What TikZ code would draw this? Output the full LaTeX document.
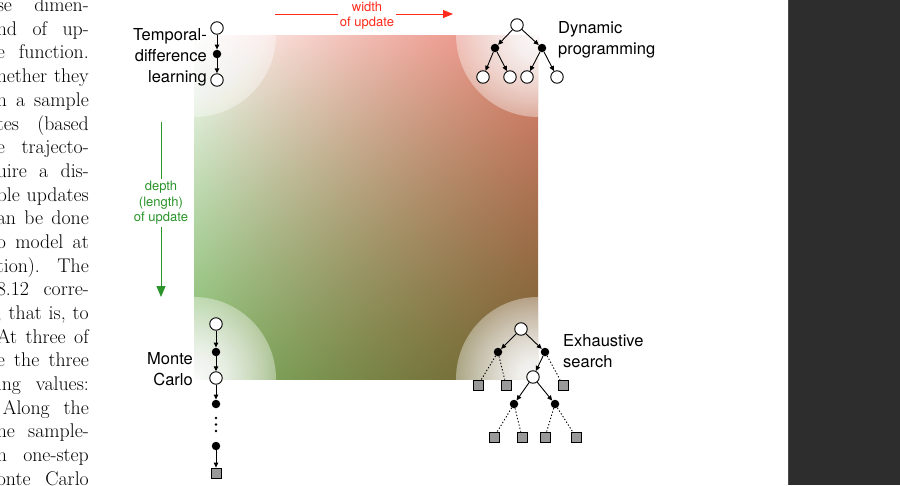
\documentclass[tikz,border=0pt]{standalone}
\usepackage{fontspec}
\setsansfont{TeX Gyre Heros}
\usetikzlibrary{arrows.meta}
\definecolor{wred}{HTML}{FF2A1A}
\definecolor{dgreen}{HTML}{2A942A}
\definecolor{band}{HTML}{2D2D2D}
\definecolor{bandedge}{HTML}{4A4A4A}
\definecolor{leafgray}{HTML}{999999}
\pgfdeclarefunctionalshading{sqshade}{\pgfpoint{0bp}{0bp}}{\pgfpoint{100bp}{100bp}}{}{
  75 exch sub 50 div
  exch 25 sub 50 div
  exch
  dup 0.25 mul 1.25 exch sub mul
  exch dup 0.25 mul 1.25 exch sub mul exch
  1 index 0.09 mul 1 exch sub 1 index 0.50 mul 1 exch sub mul
  2 index 0.48 mul 1 exch sub 2 index 0.28 mul 1 exch sub mul
  3 index 0.54 mul 1 exch sub 3 index 0.60 mul 1 exch sub mul
  5 -2 roll pop pop
}
\tikzset{
  opennode/.style={circle, draw, fill=white, line width=0.9pt, minimum size=12.5pt, inner sep=0pt},
  dotnode/.style={circle, fill=black, minimum size=8.5pt, inner sep=0pt},
  sqnode/.style={rectangle, draw, fill=leafgray, line width=0.8pt, minimum size=10pt, inner sep=0pt},
  tinydot/.style={circle, fill=black, minimum size=2.8pt, inner sep=0pt},
  barrow/.style={line width=0.9pt, -{Triangle[length=5pt,width=4.5pt]}},
  dotline/.style={line width=0.9pt, dash pattern=on 1.3pt off 2pt},
  biglbl/.style={font=\sffamily\fontsize{16.5}{21}\selectfont, inner sep=0pt},
  smalllbl/.style={font=\sffamily\fontsize{13}{15.5}\selectfont, align=center, inner sep=2pt},
  booktext/.style={font=\fontsize{19.8}{23.7}\selectfont, inner sep=0pt},
}
\begin{document}
\begin{tikzpicture}[x=1pt,y=-1pt]
\useasboundingbox (0,0) rectangle (900,485);
\fill[white] (0,0) rectangle (900,485);
% dark band
\fill[band] (788,0) rectangle (900,485);
\draw[bandedge, line width=1pt] (788.5,0) -- (788.5,485);
% book text
\node[booktext, anchor=base east] (b0) at (89,11.6) {\makebox[92pt][s]{se dimen-}};
\node[booktext, anchor=base east] (b1) at (89,35.3) {\makebox[92pt][s]{nd of up-}};
\node[booktext, anchor=base east] (b2) at (89,58.9) {\makebox[92pt][s]{e function.}};
\node[booktext, anchor=base east] (b3) at (89,82.6) {\makebox[92pt][s]{hether they}};
\node[booktext, anchor=base east] (b4) at (89,106.3) {\makebox[92pt][s]{n a sample}};
\node[booktext, anchor=base east] (b5) at (89,130.0) {\makebox[92pt][s]{tes (based}};
\node[booktext, anchor=base east] (b6) at (89,153.6) {\makebox[92pt][s]{e trajecto-}};
\node[booktext, anchor=base east] (b7) at (89,177.3) {\makebox[92pt][s]{uire a dis-}};
\node[booktext, anchor=base east] (b8) at (89,201.0) {\makebox[92pt][s]{ble updates}};
\node[booktext, anchor=base east] (b9) at (89,224.6) {\makebox[92pt][s]{an be done}};
\node[booktext, anchor=base east] (b10) at (89,248.3) {\makebox[92pt][s]{o model at}};
\node[booktext, anchor=base east] (b11) at (89,272.0) {\makebox[92pt][s]{tion). The}};
\node[booktext, anchor=base east] (b12) at (89,295.6) {\makebox[92pt][s]{8.12 corre-}};
\node[booktext, anchor=base east] (b13) at (89,319.3) {\makebox[92pt][s]{, that is, to}};
\node[booktext, anchor=base east] (b14) at (89,343.0) {\makebox[92pt][s]{At three of}};
\node[booktext, anchor=base east] (b15) at (89,366.6) {\makebox[92pt][s]{e the three}};
\node[booktext, anchor=base east] (b16) at (89,390.3) {\makebox[92pt][s]{ing values:}};
\node[booktext, anchor=base east] (b17) at (89,414.0) {\makebox[86pt][s]{Along the}};
\node[booktext, anchor=base east] (b18) at (89,437.6) {\makebox[92pt][s]{he sample-}};
\node[booktext, anchor=base east] (b19) at (89,461.3) {\makebox[92pt][s]{n one-step}};
\node[booktext, anchor=base east] (b20) at (89,485.0) {\makebox[92pt][s]{onte Carlo}};
% gradient square
\shade[shading=sqshade] (194,35) rectangle (538,379);
\begin{scope}
\clip (194,35) rectangle (538,379);
\foreach \cx/\cy in {194/35, 538/35, 194/379, 538/379}{
  \foreach \j in {1,...,39}{
    \pgfmathsetmacro\op{1-((\j-0.5)/(\j+0.5))^1.5}
    \pgfmathsetmacro\rr{82*\j/40}
    \fill[white, opacity=\op] (\cx,\cy) circle (\rr);
  }
  \fill[white, opacity=0.38] (\cx,\cy) circle (82);
}
\end{scope}
% width arrow
\coordinate (wstart) at (275,14);
\coordinate (wend) at (453,14);
\node[smalllbl, text=wred] (wlbl) at (367,15.5) {width\\of update};
\draw[wred, line width=1pt] (wstart) -- (wstart -| wlbl.west);
\draw[wred, line width=1pt, -{Triangle[length=10pt,width=8pt]}] (wstart -| wlbl.east) -- (wend);
% depth arrow
\coordinate (dstart) at (161,122);
\coordinate (dend) at (161,297);
\node[smalllbl, text=dgreen] (dlbl) at (161,203) {depth\\(length)\\of update};
\draw[dgreen, line width=1pt] (dstart) -- (dstart |- dlbl.north);
\draw[dgreen, line width=1pt, -{Triangle[length=11pt,width=9pt]}] (dstart |- dlbl.south) -- (dend);
% TD
\node[opennode] (td1) at (217,28) {};
\node[dotnode] (td2) at (217,54) {};
\node[opennode] (td3) at (217,80) {};
\draw[barrow] (td1) -- (td2);
\draw[barrow] (td2) -- (td3);
\node[biglbl, align=right, anchor=east] (tdl) at (207,57) {Temporal-\\difference\\learning};
% DP
\node[opennode] (dp0) at (517,25) {};
\node[dotnode] (dp1) at (495,48) {};
\node[dotnode] (dp2) at (542,48) {};
\node[opennode] (dpa) at (483,77) {};
\node[opennode] (dpb) at (510,77) {};
\node[opennode] (dpc) at (527,77) {};
\node[opennode] (dpd) at (557,77) {};
\draw[barrow] (dp0) -- (dp1);
\draw[barrow] (dp0) -- (dp2);
\draw[barrow] (dp1) -- (dpa);
\draw[barrow] (dp1) -- (dpb);
\draw[barrow] (dp2) -- (dpc);
\draw[barrow] (dp2) -- (dpd);
\node[biglbl, align=left, anchor=west] (dpl) at (558,40) {Dynamic\\programming};
% MC
\node[opennode] (mc1) at (216,324) {};
\node[dotnode] (mc2) at (216,352) {};
\node[opennode] (mc3) at (216,378) {};
\node[dotnode] (mc4) at (216,404) {};
\node[tinydot] (e1) at (216,418) {};
\node[tinydot] (e2) at (216,424.5) {};
\node[tinydot] (e3) at (216,431) {};
\node[dotnode] (mc5) at (216,446) {};
\node[sqnode] (mc6) at (216,473) {};
\draw[barrow] (mc1) -- (mc2);
\draw[barrow] (mc2) -- (mc3);
\draw[barrow] (mc3) -- (mc4);
\draw[barrow] (mc5) -- (mc6);
\node[biglbl, align=right, anchor=east] (mcl) at (193,369) {Monte\\Carlo};
% Exhaustive search
\node[opennode] (es0) at (521,329) {};
\node[dotnode] (es1) at (498,352) {};
\node[dotnode] (es2) at (545,352) {};
\node[sqnode] (esq1) at (478,385) {};
\node[sqnode] (esq2) at (506,385) {};
\node[opennode] (es3) at (533,377) {};
\node[sqnode] (esq3) at (563,385) {};
\node[dotnode] (es4) at (514,404) {};
\node[dotnode] (es5) at (555,404) {};
\node[sqnode] (esq4) at (494,437) {};
\node[sqnode] (esq5) at (522,437) {};
\node[sqnode] (esq6) at (545,437) {};
\node[sqnode] (esq7) at (576,437) {};
\draw[barrow] (es0) -- (es1);
\draw[barrow] (es0) -- (es2);
\draw[barrow] (es2) -- (es3);
\draw[barrow] (es3) -- (es4);
\draw[barrow] (es3) -- (es5);
\draw[dotline] (es1) -- (esq1);
\draw[dotline] (es1) -- (esq2);
\draw[dotline] (es2) -- (esq3);
\draw[dotline] (es4) -- (esq4);
\draw[dotline] (es4) -- (esq5);
\draw[dotline] (es5) -- (esq6);
\draw[dotline] (es5) -- (esq7);
\node[biglbl, align=left, anchor=west] (esl) at (563,351) {Exhaustive\\search};
\end{tikzpicture}
\end{document}
